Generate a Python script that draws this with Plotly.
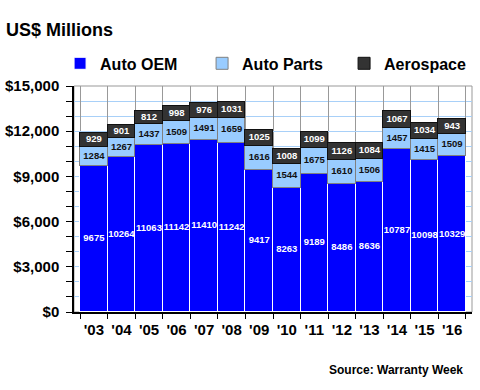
import plotly.graph_objects as go

years = ["'03", "'04", "'05", "'06", "'07", "'08", "'09", "'10", "'11", "'12", "'13", "'14", "'15", "'16"]
auto_oem = [9675, 10264, 11063, 11142, 11410, 11242, 9417, 8263, 9189, 8486, 8636, 10787, 10098, 10329]
auto_parts = [1284, 1267, 1437, 1509, 1491, 1659, 1616, 1544, 1675, 1610, 1506, 1457, 1415, 1509]
aerospace = [929, 901, 812, 998, 976, 1031, 1025, 1008, 1099, 1126, 1084, 1067, 1034, 943]

FONT = "Liberation Sans, Arial, sans-serif"

fig = go.Figure()
fig.add_trace(go.Bar(x=years, y=auto_oem, name="Auto OEM", marker=dict(color="#0000FF", line=dict(color="white", width=1))))
fig.add_trace(go.Bar(x=years, y=auto_parts, name="Auto Parts", marker=dict(color="#99CCFF", line=dict(color="#808080", width=1))))
fig.add_trace(go.Bar(x=years, y=aerospace, name="Aerospace", marker=dict(color="#333333", line=dict(color="#111111", width=1))))

# data labels centred in each segment
mid_oem = [o / 2 for o in auto_oem]
mid_parts = [o + p / 2 for o, p in zip(auto_oem, auto_parts)]
mid_aero = [o + p + a / 2 for o, p, a in zip(auto_oem, auto_parts, aerospace)]
lbl = dict(family=FONT, size=9.5, weight="bold")
fig.add_trace(go.Scatter(x=years, y=mid_oem, text=[str(v) for v in auto_oem], mode="text",
                         textfont=dict(lbl, color="white"), showlegend=False, hoverinfo="skip"))
fig.add_trace(go.Scatter(x=years, y=mid_parts, text=[str(v) for v in auto_parts], mode="text",
                         textfont=dict(lbl, color="#111111"), showlegend=False, hoverinfo="skip"))
fig.add_trace(go.Scatter(x=years, y=mid_aero, text=[str(v) for v in aerospace], mode="text",
                         textfont=dict(lbl, color="white"), showlegend=False, hoverinfo="skip"))

fig.update_layout(
    width=480, height=390,
    margin=dict(l=74, r=8, t=86, b=78, autoexpand=False),
    barmode="stack", bargap=0,
    plot_bgcolor="white", paper_bgcolor="white",
    font=dict(family=FONT, color="black"),
    title=dict(text="US$ Millions", x=0, xref="container", xanchor="left", pad=dict(l=6),
               y=1 - 30 / 390, yref="container", yanchor="middle",
               font=dict(family=FONT, size=18, weight="bold", color="black")),
    legend=dict(orientation="h", x=-0.035, xanchor="left", y=1.10, yanchor="middle",
                font=dict(family=FONT, size=16, weight="bold", color="black"),
                entrywidth=97, traceorder="normal", bgcolor="rgba(0,0,0,0)"),
    showlegend=True,
)
fig.update_xaxes(
    type="category", showline=True, linecolor="black", linewidth=1.5,
    tickson="boundaries", ticks="outside", ticklen=5, tickcolor="black", tickangle=0,
    ticklabelstandoff=3,
    showgrid=True, gridcolor="#999999", gridwidth=1,
    tickfont=dict(family=FONT, size=15, weight="bold", color="black"),
)
fig.update_yaxes(
    range=[0, 15000], dtick=3000, tickprefix="$", tickformat=",d",
    showline=True, linecolor="black", linewidth=1.5,
    ticks="outside", ticklen=6, tickcolor="black", ticklabelstandoff=4,
    showgrid=True, gridcolor="#A8D0F8", gridwidth=1,
    minor=dict(dtick=1000, showgrid=True, gridcolor="#A8D0F8", ticks="outside", ticklen=6, tickcolor="black"),
    tickfont=dict(family=FONT, size=15, weight="bold", color="black"),
    zeroline=False,
)
# plot-area frame (top and right edges)
fig.add_shape(type="rect", xref="paper", yref="paper", x0=0, x1=1, y0=0, y1=1,
              line=dict(color="#999999", width=1), layer="below")
fig.add_annotation(text="Source: Warranty Week", xref="paper", yref="paper",
                   x=(465 - 74) / 398, y=-(370 - 312) / 226, xanchor="right", yanchor="middle",
                   showarrow=False, font=dict(family=FONT, size=12, weight="bold", color="black"))

fig.write_html("out.html", config={"displayModeBar": False},
               post_script="document.body.style.margin='0';")
